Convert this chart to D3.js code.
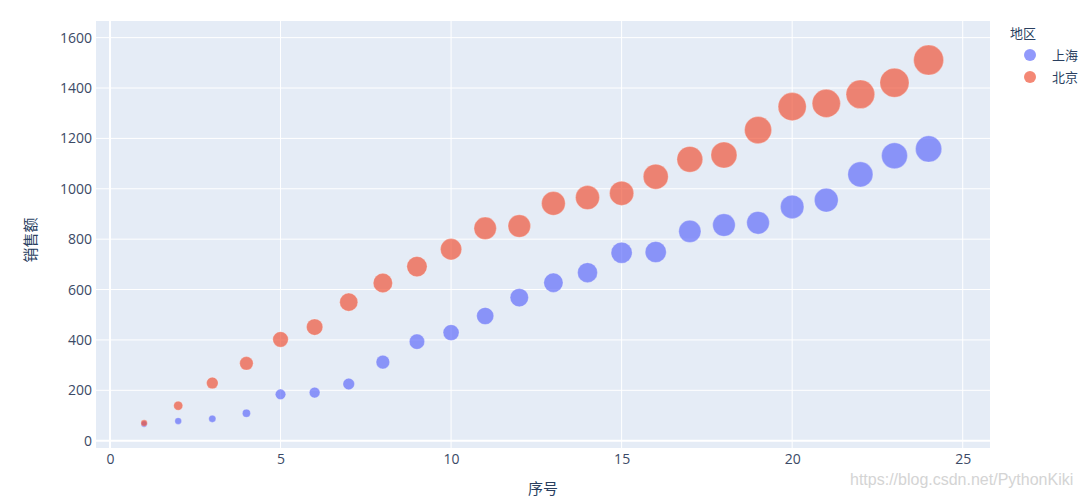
<!DOCTYPE html>
<html><head><meta charset="utf-8">
<script src="https://cdn.jsdelivr.net/npm/d3@7"></script>
<style>body{margin:0;background:#fff;}svg{display:block;font-family:"Open Sans","Noto Sans CJK SC",sans-serif;}</style>
</head><body><svg id="c" width="1080" height="497"></svg>
<script>
const xs = d3.range(1, 25);
const shanghai = [66,78,87,109,184,191,225,312,393,429,495,568,627,667,746,749,831,856,865,928,955,1057,1131,1158];
const beijing  = [70,139,229,307,402,451,550,626,691,760,843,852,942,965,982,1048,1117,1134,1233,1326,1339,1375,1421,1511];
const seriesNames = ["上海","北京"];
const seriesColors = ["#636efa","#EF553B"];
const xTicks = [0,5,10,15,20,25];
const yTicks = [0,200,400,600,800,1000,1200,1400,1600];

const svg = d3.select("#c");
const L=96,R=990,T=21,B=448;
const x = d3.scaleLinear().domain([-0.41,25.8]).range([L,R]);
const y = d3.scaleLinear().domain([-29,1666]).range([B,T]);
const vmax = d3.max(beijing.concat(shanghai));
const r = d3.scaleSqrt().domain([0,vmax]).range([0,15]);

svg.append("rect").attr("x",L).attr("y",T).attr("width",R-L).attr("height",B-T).attr("fill","#E5ECF6");
const g = svg.append("g");
g.selectAll(".gy").data(yTicks).join("line").attr("x1",L).attr("x2",R)
 .attr("y1",d=>y(d)).attr("y2",d=>y(d)).attr("stroke","#fff").attr("stroke-width",d=>d===0?2:1);
g.selectAll(".gx").data(xTicks).join("line").attr("y1",T).attr("y2",B)
 .attr("x1",d=>x(d)).attr("x2",d=>x(d)).attr("stroke","#fff").attr("stroke-width",d=>d===0?2:1);

const ya = svg.append("g").attr("transform",`translate(${L},0)`).call(d3.axisLeft(y).tickValues(yTicks).tickFormat(d3.format("d")).tickSize(0).tickPadding(4));
const xa = svg.append("g").attr("transform",`translate(0,${B})`).call(d3.axisBottom(x).tickValues(xTicks).tickFormat(d3.format("d")).tickSize(0).tickPadding(6));
[ya,xa].forEach(a=>{a.select(".domain").remove();a.selectAll("text").attr("fill","#3b4a66").style("font-size","14px").style("font-family","'Open Sans',sans-serif");});

const data = [shanghai, beijing];
data.forEach((vals,i)=>{
  svg.append("g").selectAll("circle").data(vals).join("circle")
   .attr("cx",(d,j)=>x(xs[j])).attr("cy",d=>y(d)).attr("r",d=>r(d))
   .attr("fill",seriesColors[i]).attr("fill-opacity",0.7)
   .attr("stroke","#fff").attr("stroke-opacity",0.5).attr("stroke-width",0.5);
});

svg.append("text").attr("x",543).attr("y",494).attr("text-anchor","middle").attr("fill","#2a3f5f")
  .style("font-size","15px").text("序号");
svg.append("text").attr("transform","translate(36,240) rotate(-90)").attr("text-anchor","middle").attr("fill","#2a3f5f")
  .style("font-size","15px").text("销售额");

const lg = svg.append("g");
lg.append("text").attr("x",1010).attr("y",38).attr("fill","#2a3f5f").style("font-size","13px").text("地区");
seriesNames.forEach((n,i)=>{
  lg.append("circle").attr("cx",1030).attr("cy",55+i*22).attr("r",6).attr("fill",seriesColors[i]).attr("fill-opacity",0.7);
  lg.append("text").attr("x",1052).attr("y",60+i*22).attr("fill","#2a3f5f").style("font-size","13px").text(n);
});

svg.append("text").attr("x",850).attr("y",485).attr("fill","#d4d4d4").style("font-size","16px")
  .style("font-family","'Liberation Sans',Arial,sans-serif").text("https://blog.csdn.net/PythonKiki");
</script></body></html>
